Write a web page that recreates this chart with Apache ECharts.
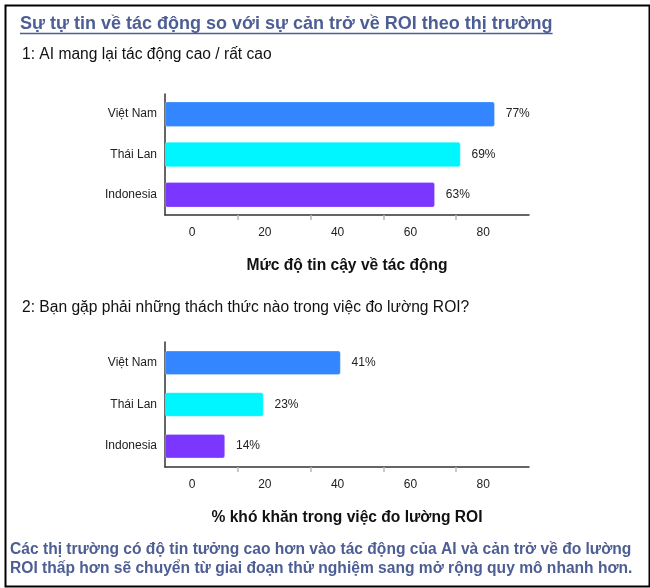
<!DOCTYPE html>
<html>
<head>
<meta charset="utf-8">
<title>ROI theo thị trường</title>
<script src="https://cdn.jsdelivr.net/npm/echarts@6/dist/echarts.min.js"></script>
<style>
  html, body { margin: 0; padding: 0; background: #fff; }
  #chart { width: 650px; height: 588px; }
</style>
</head>
<body>
<div id="chart"></div>
<script>
// du lieu
const markets = ['Việt Nam', 'Thái Lan', 'Indonesia'];
const impactHigh = [77, 69, 63];
const roiChallenge = [41, 23, 14];
const barColors = ['#3386FF', '#00F6FF', '#7B36FF'];
const xTicks = [0, 20, 40, 60, 80];
const tickMarks = [20, 40, 60, 80];

const titleText = 'Sự tự tin về tác động so với sự cản trở về ROI theo thị trường';
const q1Text = '1: AI mang lại tác động cao / rất cao';
const q2Text = '2: Bạn gặp phải những thách thức nào trong việc đo lường ROI?';
const axisName1 = 'Mức độ tin cậy về tác động';
const axisName2 = '% khó khăn trong việc đo lường ROI';
const noteText = 'Các thị trường có độ tin tưởng cao hơn vào tác động của AI và cản trở về đo lường\nROI thấp hơn sẽ chuyển từ giai đoạn thử nghiệm sang mở rộng quy mô nhanh hơn.';

const FONT = '"Liberation Sans", Arial, sans-serif';
const BLUE_TXT = '#4D5E94';
const TITLE_FONT = 'bold 18px ' + FONT;

// do rong tieu de de ve gach chan
function textWidth(txt, font) {
  let c = document.createElement('canvas').getContext('2d');
  c.font = font;
  return c.measureText(txt).width;
}
const titleW = textWidth(titleText, TITLE_FONT);

function barData(vals) {
  return vals.map((v, i) => ({
    value: v,
    itemStyle: { color: barColors[i] }
  }));
}

function dataAxis(gi) {
  return { gridIndex: gi, type: 'value', min: 0, max: 85, show: false, position: 'bottom' };
}
function showAxis(gi, name) {
  return {
    gridIndex: gi,
    type: 'value',
    position: 'bottom',
    min: 0, max: 100, interval: 20,
    name: name,
    nameLocation: 'middle',
    nameGap: 43,
    nameTextStyle: { fontFamily: FONT, fontSize: 15.6, fontWeight: 'bold', color: '#111' },
    axisLine: { show: true, onZero: false, lineStyle: { color: '#333', width: 1.5 } },
    axisTick: {
      show: true, length: 5, customValues: tickMarks,
      lineStyle: { color: '#A9BACD', width: 1.5 }
    },
    axisLabel: {
      margin: 12,
      padding: [0, 0, 0, 54],
      fontFamily: FONT, fontSize: 12, color: '#222',
      formatter: v => xTicks.includes(v) ? String(v) : ''
    },
    splitLine: { show: false }
  };
}
function catAxis(gi) {
  return {
    gridIndex: gi,
    type: 'category',
    data: markets,
    inverse: true,
    axisLine: { show: true, lineStyle: { color: '#333', width: 1.5 } },
    axisTick: { show: false },
    axisLabel: { margin: 8, fontFamily: FONT, fontSize: 12, color: '#222' }
  };
}
function barSeries(idx, vals, w) {
  return {
    type: 'bar',
    xAxisIndex: idx * 2,
    yAxisIndex: idx,
    data: barData(vals),
    barWidth: w,
    itemStyle: { borderRadius: 2, borderColor: 'rgba(255,255,255,0.5)', borderWidth: 0.5 },
    label: {
      show: true, position: 'right', distance: 11,
      formatter: '{c}%',
      fontFamily: FONT, fontSize: 12, color: '#222'
    },
    silent: true
  };
}

let chart = echarts.init(document.getElementById('chart'), null, { renderer: 'canvas' });
chart.setOption({
  backgroundColor: '#fff',
  animation: false,
  grid: [
    { left: 165, right: 121, top: 94, height: 121 },
    { left: 165, right: 121, top: 342, height: 125 }
  ],
  xAxis: [dataAxis(0), showAxis(0, axisName1), dataAxis(1), showAxis(1, axisName2)],
  yAxis: [catAxis(0), catAxis(1)],
  series: [barSeries(0, impactHigh, 25), barSeries(1, roiChallenge, 24)],
  graphic: [
    {
      type: 'rect', left: 3, top: 3,
      shape: { width: 644, height: 581 },
      style: { fill: 'none', stroke: '#000', lineWidth: 2 }
    },
    {
      type: 'text', left: 20, top: 15,
      style: { text: titleText, font: TITLE_FONT, fill: BLUE_TXT }
    },
    {
      type: 'line',
      shape: { x1: 20, y1: 33.5, x2: 20 + titleW, y2: 33.5 },
      style: { stroke: BLUE_TXT, lineWidth: 1.3 }
    },
    {
      type: 'text', left: 22, top: 47,
      style: { text: q1Text, font: '15.6px ' + FONT, fill: '#111' }
    },
    {
      type: 'text', left: 22, top: 300,
      style: { text: q2Text, font: '15.6px ' + FONT, fill: '#111' }
    },
    {
      type: 'text', left: 10, top: 540,
      style: { text: noteText, font: 'bold 15.6px ' + FONT, fill: BLUE_TXT, lineHeight: 19 }
    }
  ]
});
</script>
</body>
</html>
